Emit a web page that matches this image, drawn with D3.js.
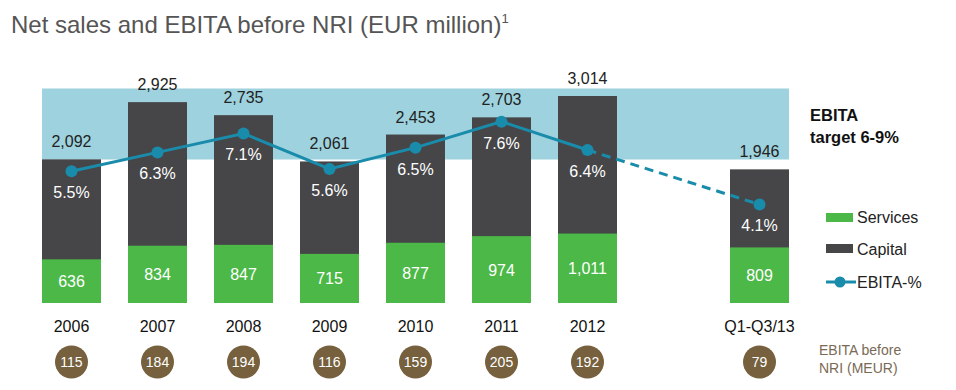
<!DOCTYPE html>
<html>
<head>
<meta charset="utf-8">
<script src="https://cdn.jsdelivr.net/npm/d3@7"></script>
<style>
  body { margin: 0; background: #fff; }
  svg { display: block; font-family: 'Liberation Sans', Arial, sans-serif; }
</style>
</head>
<body>
<svg width="956" height="390"></svg>
<script>
'use strict'

const periods = ['2006', '2007', '2008', '2009', '2010', '2011', '2012', '', 'Q1-Q3/13']
const totals = [2092, 2925, 2735, 2061, 2453, 2703, 3014, null, 1946]
const services = [636, 834, 847, 715, 877, 974, 1011, null, 809]
const ebitaPct = [5.5, 6.3, 7.1, 5.6, 6.5, 7.6, 6.4, null, 4.1]
const ebitaMeur = [115, 184, 194, 116, 159, 205, 192, null, 79]
const targetBand = [6, 9]

const colors = {
  services: '#4cb848',
  capital: '#464648',
  band: '#9dd2de',
  line: '#1a8cab',
  coin: '#76603e'
}

const svg = d3.select('svg')

// bands start at 42 with a step of 86
const xScale = d3
  .scaleBand()
  .domain(d3.range(periods.length))
  .range([42, 42 + 86 * periods.length - 27])
  .paddingInner(27 / 86)
  .paddingOuter(0)
  .align(0)

const yScale = d3.scaleLinear().domain([0, 3014]).range([303, 96])
const pctScale = d3.scaleLinear().domain(targetBand).range([159.5, 88.5])

const rows = periods
  .map((p, i) => ({
    i: i,
    period: p,
    total: totals[i],
    services: services[i],
    pct: ebitaPct[i],
    meur: ebitaMeur[i]
  }))
  .filter(d => d.total !== null)

const bw = xScale.bandwidth()
const cx = d => xScale(d.i) + bw / 2

// title
const title = svg
  .append('text')
  .attr('x', 11)
  .attr('y', 33)
  .style('font-size', '24px')
  .style('fill', '#555')
title.append('tspan').text('Net sales and EBITA before NRI (EUR million)')
title
  .append('tspan')
  .attr('dy', -10)
  .style('font-size', '13px')
  .text('1')

// target band
svg
  .append('rect')
  .attr('x', xScale(0))
  .attr('width', xScale(8) + bw - xScale(0))
  .attr('y', pctScale(targetBand[1]))
  .attr('height', pctScale(targetBand[0]) - pctScale(targetBand[1]))
  .style('fill', colors.band)

// capital (total) bars
svg
  .selectAll('.capital')
  .data(rows)
  .enter()
  .append('rect')
  .attr('class', 'capital')
  .attr('x', d => xScale(d.i))
  .attr('width', bw)
  .attr('y', d => yScale(d.total))
  .attr('height', d => yScale(0) - yScale(d.total))
  .style('fill', colors.capital)

svg
  .selectAll('.services')
  .data(rows)
  .enter()
  .append('rect')
  .attr('class', 'services')
  .attr('x', d => xScale(d.i))
  .attr('width', bw)
  .attr('y', d => yScale(d.services))
  .attr('height', d => yScale(0) - yScale(d.services))
  .style('fill', colors.services)

// total labels
svg
  .selectAll('.total-label')
  .data(rows)
  .enter()
  .append('text')
  .attr('x', cx)
  .attr('y', d => yScale(d.total) - 12)
  .attr('text-anchor', 'middle')
  .style('font-size', '16px')
  .style('fill', '#222')
  .text(d => d3.format(',')(d.total))

// services labels
svg
  .selectAll('.services-label')
  .data(rows)
  .enter()
  .append('text')
  .attr('x', cx)
  .attr('y', d => (yScale(d.services) + yScale(0)) / 2 + 6)
  .attr('text-anchor', 'middle')
  .style('font-size', '16px')
  .style('fill', '#fff')
  .text(d => d3.format(',')(d.services))

// EBITA-% line
const line = d3
  .line()
  .x(cx)
  .y(d => pctScale(d.pct))

const solidRows = rows.filter(d => d.i <= 6)
const dashRows = rows.filter(d => d.i >= 6)

svg
  .append('path')
  .datum(solidRows)
  .attr('d', line)
  .style('fill', 'none')
  .style('stroke', colors.line)
  .style('stroke-width', 3)

svg
  .append('path')
  .datum(dashRows)
  .attr('d', line)
  .style('fill', 'none')
  .style('stroke', colors.line)
  .style('stroke-width', 3)
  .style('stroke-dasharray', '9,6')

svg
  .selectAll('.dot')
  .data(rows)
  .enter()
  .append('circle')
  .attr('cx', cx)
  .attr('cy', d => pctScale(d.pct))
  .attr('r', 6)
  .style('fill', colors.line)

svg
  .selectAll('.pct-label')
  .data(rows)
  .enter()
  .append('text')
  .attr('x', cx)
  .attr('y', d => pctScale(d.pct) + 27)
  .attr('text-anchor', 'middle')
  .style('font-size', '16px')
  .style('fill', '#fff')
  .text(d => d.pct.toFixed(1) + '%')

// period labels
svg
  .selectAll('.period')
  .data(rows)
  .enter()
  .append('text')
  .attr('x', cx)
  .attr('y', 332)
  .attr('text-anchor', 'middle')
  .style('font-size', '16px')
  .style('fill', '#111')
  .text(d => d.period)

// EBITA MEUR coins
svg
  .selectAll('.coin')
  .data(rows)
  .enter()
  .append('circle')
  .attr('cx', cx)
  .attr('cy', 362)
  .attr('r', 16.5)
  .style('fill', colors.coin)

svg
  .selectAll('.coin-label')
  .data(rows)
  .enter()
  .append('text')
  .attr('x', cx)
  .attr('y', 367)
  .attr('text-anchor', 'middle')
  .style('font-size', '14px')
  .style('fill', '#fff')
  .text(d => d.meur)

const note = svg
  .append('text')
  .style('font-size', '14px')
  .style('fill', '#7a6a55')
note.append('tspan').attr('x', 819).attr('y', 355).text('EBITA before')
note.append('tspan').attr('x', 819).attr('y', 373).text('NRI (MEUR)')

// target text
const target = svg
  .append('text')
  .style('font-size', '16.5px')
  .style('font-weight', 'bold')
  .style('fill', '#111')
target.append('tspan').attr('x', 810).attr('y', 121).text('EBITA')
target.append('tspan').attr('x', 810).attr('y', 143).text('target 6-9%')

// legend
const legend = svg.append('g').attr('transform', 'translate(826,0)')

legend
  .append('rect')
  .attr('x', 0)
  .attr('y', 213)
  .attr('width', 27)
  .attr('height', 9)
  .style('fill', colors.services)
legend
  .append('text')
  .attr('x', 31)
  .attr('y', 223)
  .style('font-size', '16px')
  .style('fill', '#222')
  .text('Services')

legend
  .append('rect')
  .attr('x', 0)
  .attr('y', 244)
  .attr('width', 27)
  .attr('height', 9)
  .style('fill', colors.capital)
legend
  .append('text')
  .attr('x', 31)
  .attr('y', 255)
  .style('font-size', '16px')
  .style('fill', '#222')
  .text('Capital')

legend
  .append('line')
  .attr('x1', 0)
  .attr('x2', 30)
  .attr('y1', 282)
  .attr('y2', 282)
  .style('stroke', colors.line)
  .style('stroke-width', 3)
legend
  .append('circle')
  .attr('cx', 14)
  .attr('cy', 282)
  .attr('r', 5.5)
  .style('fill', colors.line)
legend
  .append('text')
  .attr('x', 31)
  .attr('y', 288)
  .style('font-size', '16px')
  .style('fill', '#222')
  .text('EBITA-%')
</script>
</body>
</html>
